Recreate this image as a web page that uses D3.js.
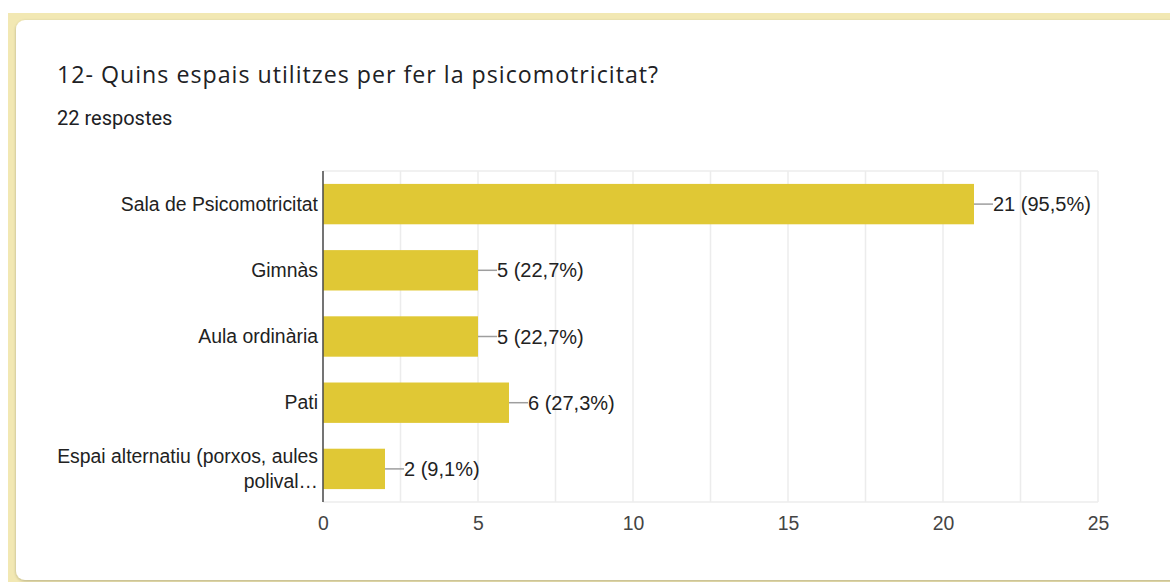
<!DOCTYPE html>
<html>
<head>
<meta charset="utf-8">
<script src="https://cdnjs.cloudflare.com/ajax/libs/d3/7.8.5/d3.min.js"></script>
<style>
  html, body { margin: 0; padding: 0; background: #ffffff; }
  svg { display: block; }
</style>
</head>
<body>
<svg id="chart" width="1170" height="582"></svg>
<script>
// Survey question and answer counts
const title = "12- Quins espais utilitzes per fer la psicomotricitat?";
const totalResponses = 22;
const categories = [
  "Sala de Psicomotricitat",
  "Gimnàs",
  "Aula ordinària",
  "Pati",
  "Espai alternatiu (porxos, aules polival…"
];
const categoryLines = [
  ["Sala de Psicomotricitat"],
  ["Gimnàs"],
  ["Aula ordinària"],
  ["Pati"],
  ["Espai alternatiu (porxos, aules", "polival…"]
];
const counts = [21, 5, 5, 6, 2];
const tickValues = [0, 5, 10, 15, 20, 25];
const gridValues = [0, 2.5, 5, 7.5, 10, 12.5, 15, 17.5, 20, 22.5, 25];

const svg = d3.select("#chart");
const W = 1170, H = 582;

// card shadow
const defs = svg.append("defs");
const f = defs.append("filter").attr("id", "shadow")
  .attr("x", "-5%").attr("y", "-5%").attr("width", "110%").attr("height", "110%");
f.append("feGaussianBlur").attr("in", "SourceAlpha").attr("stdDeviation", 1.5);
f.append("feOffset").attr("dx", 0).attr("dy", 0.5).attr("result", "b");
f.append("feComponentTransfer").append("feFuncA").attr("type", "linear").attr("slope", 0.25);
const m = f.append("feMerge");
m.append("feMergeNode");
m.append("feMergeNode").attr("in", "SourceGraphic");

// page frame and card
svg.append("rect").attr("x", 8).attr("y", 13).attr("width", W).attr("height", H)
  .attr("fill", "#f2e8b3");
svg.append("rect").attr("x", 16).attr("y", 20).attr("width", W + 2).attr("height", 560)
  .attr("rx", 9).attr("fill", "#ffffff").attr("filter", "url(#shadow)");

// heading
svg.append("text").attr("x", 57).attr("y", 83)
  .attr("font-family", "'Open Sans', Roboto, sans-serif").attr("font-size", 23.2)
  .attr("letter-spacing", 1).attr("fill", "#202124").text(title);
svg.append("text").attr("x", 57).attr("y", 125)
  .attr("font-family", "Roboto, 'Noto Sans', sans-serif").attr("font-size", 20)
  .attr("fill", "#202124").text(totalResponses + " respostes");

// plot area
const plot = { left: 323, right: 1098, top: 171, bottom: 502 };
const x = d3.scaleLinear().domain([0, 25]).range([plot.left, plot.right]);
const y = d3.scaleBand().domain(categories).range([plot.top, plot.bottom])
  .paddingInner(0.39).paddingOuter(0.195);

const font = "'Liberation Sans', Arial, sans-serif";
const fs = 19.4;

// gridlines
const g = svg.append("g");
g.selectAll("line.grid").data(gridValues).join("line")
  .attr("class", "grid")
  .attr("x1", d => x(d)).attr("x2", d => x(d))
  .attr("y1", plot.top).attr("y2", plot.bottom)
  .attr("stroke", "#ececec").attr("stroke-width", 1.5);
g.append("line").attr("x1", plot.left).attr("x2", plot.right)
  .attr("y1", plot.top).attr("y2", plot.top)
  .attr("stroke", "#ececec").attr("stroke-width", 1.5);
g.append("line").attr("x1", plot.left).attr("x2", plot.right)
  .attr("y1", plot.bottom).attr("y2", plot.bottom)
  .attr("stroke", "#ececec").attr("stroke-width", 1.5);

// bars
const data = categories.map((c, i) => ({ c, v: counts[i], lines: categoryLines[i] }));
svg.append("g").selectAll("rect").data(data).join("rect")
  .attr("x", x(0)).attr("y", d => y(d.c))
  .attr("width", d => x(d.v) - x(0)).attr("height", y.bandwidth())
  .attr("fill", "#e0c835");

// baseline axis at zero
svg.append("line").attr("x1", x(0)).attr("x2", x(0))
  .attr("y1", plot.top).attr("y2", plot.bottom)
  .attr("stroke", "#4a4a4a").attr("stroke-width", 1.5);

// x axis labels
const xAxis = d3.axisBottom(x).tickValues(tickValues).tickSize(0).tickPadding(14);
const xa = svg.append("g").attr("transform", `translate(0,${plot.bottom})`).call(xAxis);
xa.select(".domain").remove();
xa.selectAll("text").attr("font-family", font).attr("font-size", fs).attr("fill", "#444");

// category labels
const lineH = 25;
const cl = svg.append("g").selectAll("text").data(data).join("text")
  .attr("text-anchor", "end")
  .attr("font-family", font).attr("font-size", fs).attr("fill", "#222");
cl.each(function(d) {
  const t = d3.select(this);
  const cy = y(d.c) + y.bandwidth() / 2;
  const n = d.lines.length;
  d.lines.forEach((ln, k) => {
    t.append("tspan").attr("x", plot.left - 5)
      .attr("y", cy + (k - (n - 1) / 2) * lineH)
      .attr("dy", "0.35em").text(ln);
  });
});

// value labels with leader lines
const pct = v => d3.format(".1f")(v / totalResponses * 100).replace(".", ",") + "%";
const vl = svg.append("g").selectAll("g").data(data).join("g");
vl.append("line")
  .attr("x1", d => x(d.v)).attr("x2", d => x(d.v) + 19)
  .attr("y1", d => y(d.c) + y.bandwidth() / 2).attr("y2", d => y(d.c) + y.bandwidth() / 2)
  .attr("stroke", "#9e9e9e").attr("stroke-width", 1.5);
vl.append("text")
  .attr("x", d => x(d.v) + 19).attr("y", d => y(d.c) + y.bandwidth() / 2)
  .attr("dy", "0.35em")
  .attr("font-family", font).attr("font-size", 20).attr("fill", "#222")
  .text(d => `${d.v} (${pct(d.v)})`);
</script>
</body>
</html>
